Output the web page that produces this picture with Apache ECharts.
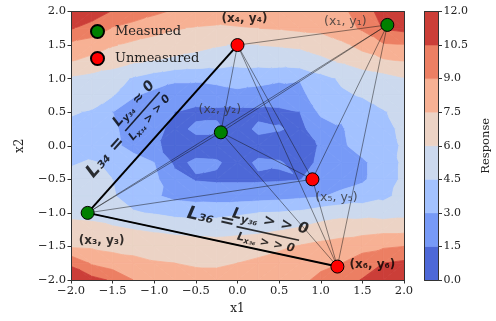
<!DOCTYPE html>
<html><head><meta charset="utf-8">
<script src="https://cdn.jsdelivr.net/npm/echarts@6/dist/echarts.min.js"></script>
<style>html,body{margin:0;padding:0;background:#fff}#c{width:496px;height:321px}</style>
</head><body><div id="c"></div>
<script>
// ---- data ----
const xGrid = [-2,-1.75,-1.5,-1.25,-1,-0.75,-0.5,-0.25,0,0.25,0.5,0.75,1,1.25,1.5,1.75,2];
const yGrid = [2,1.75,1.5,1.25,1,0.75,0.5,0.25,0,-0.25,-0.5,-0.75,-1,-1.25,-1.5,-1.75,-2];
// response values read on the grid, one row per yGrid value (top to bottom)
const response = [
  [11.6,11.2,10.4,9.9,9.3,8.8,8.5,8.3,8.2,8.2,8.3,8.4,8.5,8.7,9.6,11.2,11.5],
  [10.6,10.0,8.9,8.4,8.0,7.6,7.4,7.3,7.4,7.5,7.6,7.8,7.9,8.4,9.2,10.6,10.9],
  [8.6,8.2,7.6,7.2,6.9,6.7,6.4,6.1,5.9,6.0,6.1,6.2,6.5,7.2,7.9,8.8,9.0],
  [7.5,7.0,6.5,6.1,5.9,5.6,5.4,5.2,4.9,5.0,5.1,5.3,5.7,6.1,6.8,7.2,7.5],
  [5.8,5.5,5.3,4.3,3.7,3.2,3.2,3.4,3.6,3.4,3.2,3.1,4.0,4.7,5.0,5.4,5.9],
  [5.2,5.0,4.6,3.1,2.6,2.4,2.3,2.3,2.6,2.5,2.3,2.5,4.0,4.3,4.6,5.0,5.2],
  [4.6,4.4,3.0,2.4,2.0,1.5,1.1,1.2,1.1,1.1,1.2,1.5,3.3,3.2,3.8,4.4,4.9],
  [4.2,4.0,3.2,2.5,2.0,1.0,1.8,1.8,0.8,1.8,1.6,1.2,2.2,2.9,3.6,4.1,4.8],
  [4.0,3.8,3.3,2.6,1.7,1.1,0.9,0.8,0.8,0.9,0.9,1.0,1.6,2.8,3.5,3.9,4.7],
  [4.4,4.6,4.3,3.5,3.0,1.2,1.7,1.65,1.0,1.7,1.6,1.1,1.7,2.4,2.8,3.6,4.8],
  [4.8,5.0,4.5,3.8,3.3,2.0,1.4,1.3,1.3,1.3,1.35,1.45,2.1,2.5,2.8,3.7,4.8],
  [5.2,5.3,4.6,4.0,3.2,2.6,2.4,2.3,2.3,2.4,2.5,2.7,2.9,3.3,3.7,4.2,4.9],
  [5.6,5.5,5.0,4.6,4.4,4.1,4.0,4.1,4.3,4.5,4.6,4.8,5.3,5.6,5.5,5.3,5.5],
  [6.6,6.5,6.3,6.0,5.8,5.6,5.5,5.4,5.5,5.6,5.9,6.2,6.6,6.8,6.9,7.1,7.1],
  [7.4,7.3,7.1,7.0,6.9,6.8,6.7,6.7,6.9,7.1,7.3,7.6,7.9,8.2,8.6,8.8,9.0],
  [10.2,8.8,8.2,7.9,7.6,7.5,7.3,7.3,7.5,7.7,8.0,8.4,8.8,9.0,9.6,10.5,10.8],
  [11.8,11.0,10.3,9.0,8.6,8.3,8.1,8.0,8.1,8.3,8.5,8.8,9.2,9.8,10.6,11.3,11.8]
];
const levels = [0,1.5,3,4.5,6,7.5,9,10.5,12];

const pointX = [1.8,-0.2,-1.8,0.0,0.9,1.2];
const pointY = [1.8,0.2,-1.0,1.5,-0.5,-1.8];
const measuredIdx = [0,1,2];
const unmeasuredIdx = [3,4,5];
const pointLabels = ['(x\u2081, y\u2081)','(x\u2082, y\u2082)','(x\u2083, y\u2083)','(x\u2084, y\u2084)','(x\u2085, y\u2085)','(x\u2086, y\u2086)'];
const pointLabelBold = [false,false,true,true,false,true];
const thickPairs = [[2,3],[2,5]];
// annotation anchors (data coords)
const l34Pos = [-1.58,-0.17], l34FracPos = [-1.16,0.53];
const l36Pos = [-0.32,-1.08], l36FracPos = [0.37,-1.27];

// ---- styles ----
const bandColors = ['#4d68d7','#779af7','#a3c2ff','#ccd9ee','#ecd3c5','#f7b194','#ec7f63','#cb3e38'];
const labelOffsets = [[-42,-3],[-1,-23],[14,28],[7,-26],[24,18],[35,-2]];
const SERIF = 'DejaVu Serif', SANS = 'DejaVu Sans';

function clipHalf(poly, t, keepAbove){
  const res = [];
  for (let k=0;k<poly.length;k++){
    const a = poly[k], b = poly[(k+1)%poly.length];
    const ina = keepAbove ? a[2] >= t : a[2] <= t;
    const inb = keepAbove ? b[2] >= t : b[2] <= t;
    if (ina) res.push(a);
    if (ina !== inb){
      const f = (t - a[2])/(b[2]-a[2]);
      res.push([a[0]+f*(b[0]-a[0]), a[1]+f*(b[1]-a[1]), t]);
    }
  }
  return res;
}

const cells = [];
for (let j=0;j<yGrid.length-1;j++) for (let i=0;i<xGrid.length-1;i++)
  cells.push([(xGrid[i]+xGrid[i+1])/2,(yGrid[j]+yGrid[j+1])/2,i,j]);

function renderCell(params, api){
  const i = api.value(2), j = api.value(3);
  const c = [
    [xGrid[i],yGrid[j],response[j][i]],
    [xGrid[i+1],yGrid[j],response[j][i+1]],
    [xGrid[i+1],yGrid[j+1],response[j+1][i+1]],
    [xGrid[i],yGrid[j+1],response[j+1][i]]
  ];
  const d1 = Math.abs(c[0][2]-c[2][2]), d2 = Math.abs(c[1][2]-c[3][2]);
  const tris = d1 <= d2 ? [[c[0],c[1],c[2]],[c[0],c[2],c[3]]] : [[c[0],c[1],c[3]],[c[1],c[2],c[3]]];
  const children = [];
  tris.forEach(tri=>{
    for (let k=0;k<bandColors.length;k++){
      const lo = k===0 ? -Infinity : levels[k];
      const hi = k===bandColors.length-1 ? Infinity : levels[k+1];
      let p = clipHalf(tri, lo, true); if (p.length<3) continue;
      p = clipHalf(p, hi, false); if (p.length<3) continue;
      children.push({type:'polygon', silent:true,
        shape:{points:p.map(q=>api.coord([q[0],q[1]]))},
        style:{fill:bandColors[k], stroke:bandColors[k], lineWidth:0.8}});
    }
  });
  return {type:'group', children};
}

const cbData = bandColors.map((col,k)=>[0.5,(levels[k]+levels[k+1])/2,k]);
function renderCb(params, api){
  const k = api.value(2);
  const p1 = api.coord([0, levels[k+1]]), p2 = api.coord([1, levels[k]]);
  return {type:'rect', shape:{x:p1[0], y:p1[1], width:p2[0]-p1[0], height:p2[1]-p1[1]},
    style:{fill:bandColors[k], stroke:bandColors[k], lineWidth:0.5}};
}

const thinLines = [], thickLines = [];
for (let a=0;a<pointX.length;a++) for (let b=a+1;b<pointX.length;b++)
  thinLines.push({coords:[[pointX[a],pointY[a]],[pointX[b],pointY[b]]]});
thickPairs.forEach(([a,b])=>thickLines.push({coords:[[pointX[a],pointY[a]],[pointX[b],pointY[b]]]}));

const fmt = v => (v<0?'\u2212':'') + Math.abs(v).toFixed(1);
const axisCommon = {axisLine:{show:true,onZero:false,lineStyle:{color:'#333',width:1}}, splitLine:{show:false}, z:10};

const pointLabelData = pointX.map((x,k)=>({
  value:[x,pointY[k]],
  label:{show:true, formatter:pointLabels[k], offset:labelOffsets[k],
    fontFamily:SANS, fontSize:pointLabelBold[k]?12:12.5, fontWeight:pointLabelBold[k]?'bold':'normal',
    color:pointLabelBold[k]?'#000':'#333'}
}));

const bi = {fontFamily:SANS, fontWeight:'bold', fontStyle:'italic', color:'#000'};
const richFrac = (bw, nsz, dsz) => ({
  n:Object.assign({fontSize:nsz},bi),
  ns:Object.assign({fontSize:Math.round(nsz*0.72), padding:[Math.round(nsz*0.55),0,0,0]},bi),
  d:Object.assign({fontSize:dsz},bi),
  ds:Object.assign({fontSize:Math.round(dsz*0.72), padding:[Math.round(dsz*0.55),0,0,0]},bi),
  bar:{width:bw, height:1.6, backgroundColor:'#000', lineHeight:5},
  big:Object.assign({fontSize:18},bi)
});

const annData = [
  {value:l34Pos, label:{show:true, rotate:48.5, formatter:'{big|L\u2083\u2084 =}', rich:richFrac(50,14,11)}},
  {value:l34FracPos, label:{show:true, rotate:48.5,
    formatter:'{n|L}{ns|y\u2083\u2084}{n| \u2248 0}\n{bar|}\n{d|L}{ds|x\u2083\u2084}{d| > > 0}', rich:richFrac(52,14,11)}},
  {value:l36Pos, label:{show:true, rotate:-12.3, formatter:'{big|L\u2083\u2086 =}', rich:richFrac(50,14,11)}},
  {value:l36FracPos, label:{show:true, rotate:-12.3,
    formatter:'{n|L}{ns|y\u2083\u2086}{n| > > 0}\n{bar|}\n{d|L}{ds|x\u2083\u2086}{d| > > 0}', rich:richFrac(64,15,11.5)}}
];

const chart = echarts.init(document.getElementById('c'), null, {renderer:'canvas'});
chart.setOption({
  animation:false,
  backgroundColor:'#fff',
  grid:[
    {left:71, top:11.5, width:333, height:268.5},
    {left:424.5, top:11.5, width:14, height:268.5}
  ],
  legend:{
    data:['Measured','Unmeasured'], orient:'vertical', left:85, top:19,
    itemWidth:13, itemHeight:13, itemGap:12, icon:'circle',
    textStyle:{fontFamily:SERIF, fontSize:13, color:'#222', padding:[0,0,0,6]}
  },
  xAxis:[
    Object.assign({type:'value', gridIndex:0, min:-2, max:2, interval:0.5, position:'bottom',
      name:'x1', nameLocation:'middle', nameGap:23,
      nameTextStyle:{fontFamily:SERIF, fontSize:12, color:'#222'},
      axisTick:{show:true, length:3.5, lineStyle:{color:'#333'}},
      axisLabel:{formatter:fmt, fontFamily:SERIF, fontSize:11.5, color:'#222', margin:5}}, axisCommon),
    Object.assign({type:'value', gridIndex:0, min:-2, max:2, position:'top', axisTick:{show:false}, axisLabel:{show:false}}, axisCommon),
    Object.assign({type:'value', gridIndex:1, min:0, max:1, position:'bottom', axisTick:{show:false}, axisLabel:{show:false}}, axisCommon),
    Object.assign({type:'value', gridIndex:1, min:0, max:1, position:'top', axisTick:{show:false}, axisLabel:{show:false}}, axisCommon)
  ],
  yAxis:[
    Object.assign({type:'value', gridIndex:0, min:-2, max:2, interval:0.5, position:'left',
      name:'x2', nameLocation:'middle', nameGap:45, nameRotate:90,
      nameTextStyle:{fontFamily:SERIF, fontSize:12, color:'#222'},
      axisTick:{show:true, length:3.5, lineStyle:{color:'#333'}},
      axisLabel:{formatter:fmt, fontFamily:SERIF, fontSize:11.5, color:'#222', margin:5}}, axisCommon),
    Object.assign({type:'value', gridIndex:0, min:-2, max:2, position:'right', axisTick:{show:false}, axisLabel:{show:false}}, axisCommon),
    Object.assign({type:'value', gridIndex:1, min:0, max:12, interval:1.5, position:'right',
      name:'Response', nameLocation:'middle', nameGap:42, nameRotate:90,
      nameTextStyle:{fontFamily:SERIF, fontSize:11.5, color:'#222'},
      axisTick:{show:true, length:3.5, lineStyle:{color:'#333'}},
      axisLabel:{formatter:(v)=>v.toFixed(1), fontFamily:SERIF, fontSize:11, color:'#222', margin:5}}, axisCommon),
    Object.assign({type:'value', gridIndex:1, min:0, max:12, position:'left', axisTick:{show:false}, axisLabel:{show:false}}, axisCommon)
  ],
  series:[
    {type:'custom', name:'contour', xAxisIndex:0, yAxisIndex:0, data:cells, encode:{x:0,y:1},
      renderItem:renderCell, clip:true, silent:true, z:1},
    {type:'custom', name:'colorbar', xAxisIndex:2, yAxisIndex:2, data:cbData, encode:{x:0,y:1},
      renderItem:renderCb, silent:true, z:1},
    {type:'lines', coordinateSystem:'cartesian2d', xAxisIndex:0, yAxisIndex:0, data:thinLines,
      lineStyle:{color:'#111', width:0.6, opacity:0.8}, silent:true, z:3},
    {type:'lines', coordinateSystem:'cartesian2d', xAxisIndex:0, yAxisIndex:0, data:thickLines,
      lineStyle:{color:'#000', width:2, opacity:1}, silent:true, z:3},
    {type:'scatter', name:'Measured', xAxisIndex:0, yAxisIndex:0, symbol:'circle', symbolSize:13,
      data:measuredIdx.map(k=>[pointX[k],pointY[k]]),
      itemStyle:{color:'#008000', borderColor:'#000', borderWidth:1, opacity:1}, z:5},
    {type:'scatter', name:'Unmeasured', xAxisIndex:0, yAxisIndex:0, symbol:'circle', symbolSize:13,
      data:unmeasuredIdx.map(k=>[pointX[k],pointY[k]]),
      itemStyle:{color:'#ff0000', borderColor:'#000', borderWidth:1, opacity:1}, z:5},
    {type:'scatter', name:'pointLabels', xAxisIndex:0, yAxisIndex:0, symbolSize:0, silent:true,
      data:pointLabelData, label:{position:'inside'}, z:6},
    {type:'scatter', name:'annotations', xAxisIndex:0, yAxisIndex:0, symbolSize:0, silent:true,
      data:annData, label:{position:'inside', align:'center', verticalAlign:'middle'}, z:6}
  ]
});
</script></body></html>
